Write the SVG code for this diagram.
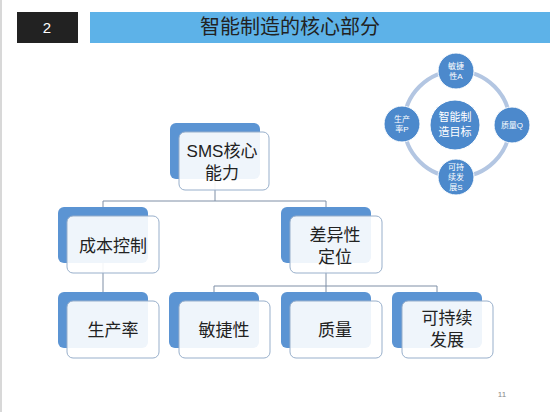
<svg xmlns="http://www.w3.org/2000/svg" width="550" height="412" viewBox="0 0 550 412">
<style>
.t{font-family:"Liberation Sans","Noto Sans CJK SC",sans-serif;}
.back{fill:#5B94D3;}
.front{fill:#ffffff;fill-opacity:0.9;stroke:#98AFCB;stroke-width:1;}
.lbl{font-size:17px;fill:#222;text-anchor:middle;}
.conn{fill:none;stroke:#7F8FA6;stroke-width:1;}
.sc{fill:#4C89CC;stroke:#ffffff;stroke-width:1;}
.st{font-size:8px;fill:#fff;text-anchor:middle;}
</style>
<rect x="0" y="0" width="550" height="412" fill="#ffffff"/>
<line x1="1" y1="0" x2="1" y2="412" stroke="#d8d8d8" stroke-width="2"/>
<g id="header">
<rect x="17" y="12" width="61" height="31" fill="#222222"/>
<text class="t" x="47" y="33" font-size="15" fill="#ffffff" text-anchor="middle">2</text>
<rect x="90" y="12" width="460" height="31" fill="#5DB2E8"/>
<text class="t" x="290" y="34" font-size="20" fill="#222" text-anchor="middle">智能制造的核心部分</text>
</g>
<g id="connectors">
<path class="conn" d="M215 180V201M103 201H326M103 201V207M326 201V207"/>
<path class="conn" d="M103 263V292"/>
<path class="conn" d="M326 263V286M214 286H437M214 286V292M326 286V292M437 286V292"/>
</g>
<g id="n-sms">
<rect class="back" x="170" y="123" width="90" height="56" rx="6"/>
<rect class="front" x="179" y="132" width="90" height="58" rx="6"/>
<text class="t lbl" x="222" y="157">SMS核心</text>
<text class="t lbl" x="222" y="179">能力</text>
</g>
<g id="n-cost">
<rect class="back" x="58" y="207" width="90" height="56" rx="6"/>
<rect class="front" x="67" y="216" width="92" height="57" rx="6"/>
<text class="t lbl" x="113" y="252">成本控制</text>
</g>
<g id="n-diff">
<rect class="back" x="281" y="207" width="90" height="56" rx="6"/>
<rect class="front" x="290" y="216" width="92" height="57" rx="6"/>
<text class="t lbl" x="335" y="241">差异性</text>
<text class="t lbl" x="335" y="263">定位</text>
</g>
<g id="n-prod">
<rect class="back" x="58" y="292" width="90" height="56" rx="6"/>
<rect class="front" x="67" y="301" width="92" height="57" rx="6"/>
<text class="t lbl" x="113" y="336">生产率</text>
</g>
<g id="n-agile">
<rect class="back" x="169" y="292" width="90" height="56" rx="6"/>
<rect class="front" x="179" y="301" width="91" height="57" rx="6"/>
<text class="t lbl" x="224" y="336">敏捷性</text>
</g>
<g id="n-quality">
<rect class="back" x="281" y="292" width="90" height="56" rx="6"/>
<rect class="front" x="290" y="301" width="92" height="57" rx="6"/>
<text class="t lbl" x="335" y="336">质量</text>
</g>
<g id="n-sustain">
<rect class="back" x="392" y="292" width="90" height="56" rx="6"/>
<rect class="front" x="402" y="301" width="91" height="57" rx="6"/>
<text class="t lbl" x="447" y="324">可持续</text>
<text class="t lbl" x="447" y="346">发展</text>
</g>
<g id="cycle">
<circle cx="457" cy="124" r="53" fill="none" stroke="#B3C6E2" stroke-width="4"/>
</g>
<g id="c-center">
<circle class="sc" cx="455" cy="125" r="25"/>
<text class="t" x="455" y="121" font-size="11" fill="#fff" text-anchor="middle">智能制</text>
<text class="t" x="455" y="136" font-size="11" fill="#fff" text-anchor="middle">造目标</text>
</g>
<g id="c-top">
<circle class="sc" cx="456" cy="71" r="18"/>
<text class="t st" x="456" y="69">敏捷</text>
<text class="t st" x="456" y="79">性A</text>
</g>
<g id="c-right">
<circle class="sc" cx="512" cy="125" r="18"/>
<text class="t st" x="512" y="128">质量Q</text>
</g>
<g id="c-bottom">
<circle class="sc" cx="456" cy="177" r="18"/>
<text class="t st" x="456" y="170">可持</text>
<text class="t st" x="456" y="180">续发</text>
<text class="t st" x="456" y="190">展S</text>
</g>
<g id="c-left">
<circle class="sc" cx="402" cy="124" r="18"/>
<text class="t st" x="402" y="122">生产</text>
<text class="t st" x="402" y="132">率P</text>
</g>
<text class="t" x="502" y="397" font-size="8" fill="#888" text-anchor="middle">11</text>
</svg>
